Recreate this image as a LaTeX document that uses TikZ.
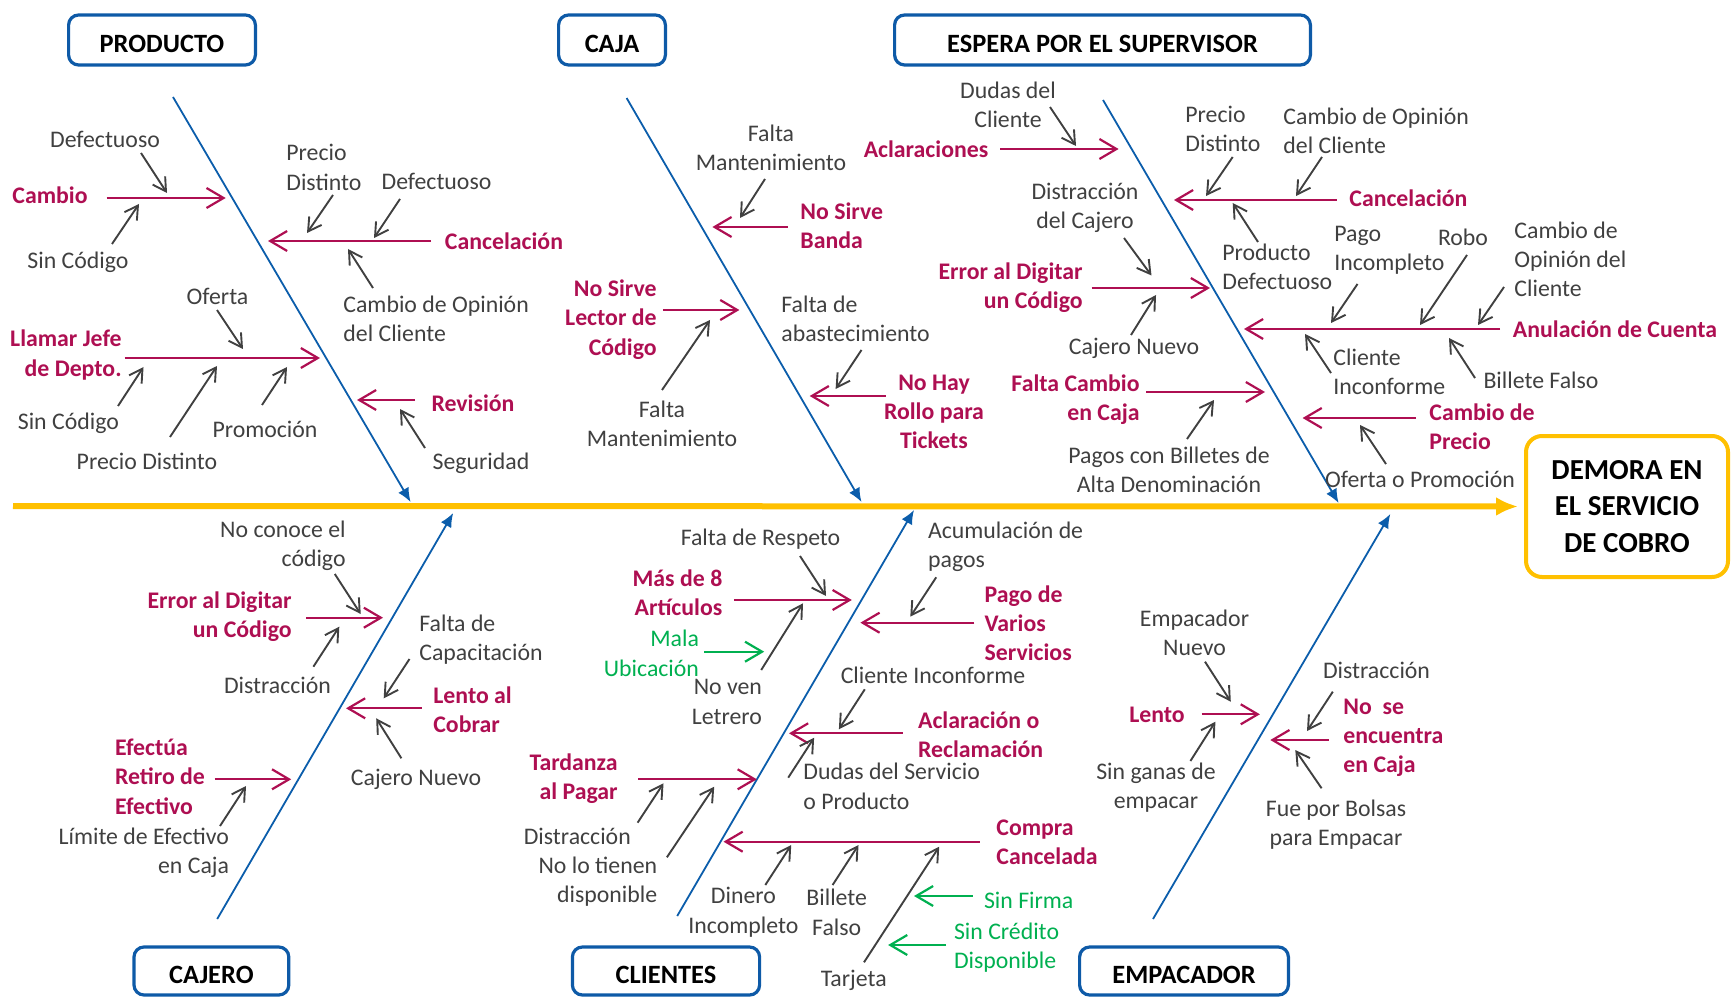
\documentclass[tikz,border=0pt]{standalone}
\usepackage{fontspec}
\setmainfont{Carlito}
\usetikzlibrary{arrows.meta}
\definecolor{boneblue}{HTML}{0B5DAB}
\definecolor{boxblue}{HTML}{0E5AA7}
\definecolor{causered}{HTML}{AE0F52}
\definecolor{subgray}{HTML}{404040}
\definecolor{notegreen}{HTML}{00B050}
\definecolor{spineyellow}{HTML}{FFC000}

\begin{document}
\begin{tikzpicture}[
  x=0.5pt, y=-0.5pt,
  catbox/.style={
    draw=boxblue,
    line width=1.6pt,
    rounded corners=5pt,
    font=\fontsize{13.2}{16}\selectfont\bfseries,
    text height=12.5pt,
    text depth=0pt,
    minimum height=25pt
  },
  effectbox/.style={
    draw=spineyellow,
    line width=2pt,
    rounded corners=8pt,
    align=center,
    font=\fontsize{14.5}{18.2}\selectfont\bfseries,
    minimum width=101pt,
    minimum height=70.5pt
  },
  sub/.style={text=subgray, inner sep=0pt, align=center, font=\fontsize{11.9}{14.6}\selectfont},
  cause/.style={text=causered, inner sep=0pt, align=center, font=\fontsize{11.9}{14.6}\selectfont\bfseries},
  note/.style={text=notegreen, inner sep=0pt, align=center, font=\fontsize{11.9}{14.6}\selectfont},
  subedge/.style={draw=subgray, line width=0.95pt, -{Straight Barb[length=6.5pt,width=7.5pt]}},
  causeedge/.style={draw=causered, line width=1.1pt, -{Straight Barb[length=8.5pt,width=10pt]}},
  noteedge/.style={draw=notegreen, line width=1.1pt, -{Straight Barb[length=8.5pt,width=10pt]}},
  bone/.style={draw=boneblue, line width=0.9pt, -{Latex[length=7pt,width=6pt]}},
  spine/.style={draw=spineyellow, line width=3pt, -{Latex[length=11pt,width=9.5pt]}}
]
\useasboundingbox (0,0) rectangle (1733,1005);

\node[catbox, minimum width=93.4pt] (producto) at (162,40) {PRODUCTO};
\node[catbox, minimum width=53.4pt] (caja) at (612,40) {CAJA};
\node[catbox, minimum width=207.9pt] (espera) at (1102.5,40) {ESPERA POR EL SUPERVISOR};
\node[catbox, minimum width=77.4pt, minimum height=24pt] (cajero) at (211.4,971) {CAJERO};
\node[catbox, minimum width=93.6pt, minimum height=24pt] (clientes) at (666,971) {CLIENTES};
\node[catbox, minimum width=104.4pt, minimum height=24pt] (empacador) at (1184,971) {EMPACADOR};
\node[effectbox] (demora) at (1627,506.5) {DEMORA EN\\EL SERVICIO\\DE COBRO};

\coordinate (spine-s) at (13,506);
\draw[spine, shorten >=3pt] (spine-s) -- (demora.west);

\coordinate (producto-s) at (173,97);    \coordinate (producto-e) at (410.6,502);
\coordinate (caja-s) at (626.6,98);      \coordinate (caja-e) at (861.5,502);
\coordinate (espera-s) at (1103,100);    \coordinate (espera-e) at (1338.6,503);
\coordinate (cajero-s) at (217.2,919);   \coordinate (cajero-e) at (453.2,513);
\coordinate (clientes-s) at (677.2,916); \coordinate (clientes-e) at (914,510);
\coordinate (empacador-s) at (1153,919); \coordinate (empacador-e) at (1390.3,514);
\draw[bone] (producto-s) -- (producto-e);
\draw[bone] (caja-s) -- (caja-e);
\draw[bone] (espera-s) -- (espera-e);
\draw[bone] (cajero-s) -- (cajero-e);
\draw[bone] (clientes-s) -- (clientes-e);
\draw[bone] (empacador-s) -- (empacador-e);

% PRODUCTO
\node[cause] (p-cambio) at (50,195) {Cambio};
\node[cause] (p-cancel) at (504,241) {Cancelación};
\node[cause, anchor=east, align=right] (p-llamar) at (122,355) {Llamar Jefe\\de Depto.};
\node[cause] (p-revision) at (473,403) {Revisión};
\node[sub] (p-defect1) at (105,139) {Defectuoso};
\node[sub] (p-sincod1) at (78,262) {Sin Código};
\node[sub, anchor=west, align=left] (p-precio1) at (286,167.5) {Precio\\Distinto};
\node[sub] (p-defect2) at (436.5,181) {Defectuoso};
\node[sub, anchor=west, align=left] (p-opinion) at (343,319) {Cambio de Opinión\\del Cliente};
\node[sub] (p-oferta) at (217.5,296) {Oferta};
\node[sub] (p-sincod2) at (68.4,423) {Sin Código};
\node[sub] (p-precio2) at (147,461) {Precio Distinto};
\node[sub] (p-promo) at (265,429) {Promoción};
\node[sub] (p-seguridad) at (481,463) {Seguridad};

\coordinate (p-cambio-s) at (106.5,198);   \coordinate (p-cambio-e) at (225.7,198);
\coordinate (p-cancel-s) at (431,241);     \coordinate (p-cancel-e) at (268,241);
\coordinate (p-llamar-s) at (124.7,358);   \coordinate (p-llamar-e) at (320,358);
\coordinate (p-revision-s) at (415,400);   \coordinate (p-revision-e) at (357,400);
\coordinate (p-defect1-s) at (141,153);    \coordinate (p-defect1-e) at (167,193);
\coordinate (p-sincod1-s) at (112,244);    \coordinate (p-sincod1-e) at (139,204);
\coordinate (p-precio1-s) at (333,195);    \coordinate (p-precio1-e) at (307,233);
\coordinate (p-defect2-s) at (400,199);    \coordinate (p-defect2-e) at (374,238);
\coordinate (p-opinion-s) at (373,288);    \coordinate (p-opinion-e) at (348,249);
\coordinate (p-oferta-s) at (217,310);     \coordinate (p-oferta-e) at (243,349);
\coordinate (p-sincod2-s) at (118,406);    \coordinate (p-sincod2-e) at (143.5,367);
\coordinate (p-precio2-s) at (170,437);    \coordinate (p-precio2-e) at (217,366);
\coordinate (p-promo-s) at (262,405);      \coordinate (p-promo-e) at (287,367);
\coordinate (p-seguridad-s) at (425,448);  \coordinate (p-seguridad-e) at (400,409);
\draw[causeedge] (p-cambio-s) -- (p-cambio-e);
\draw[causeedge] (p-cancel-s) -- (p-cancel-e);
\draw[causeedge] (p-llamar-s) -- (p-llamar-e);
\draw[causeedge] (p-revision-s) -- (p-revision-e);
\draw[subedge] (p-defect1-s) -- (p-defect1-e);
\draw[subedge] (p-sincod1-s) -- (p-sincod1-e);
\draw[subedge] (p-precio1-s) -- (p-precio1-e);
\draw[subedge] (p-defect2-s) -- (p-defect2-e);
\draw[subedge] (p-opinion-s) -- (p-opinion-e);
\draw[subedge] (p-oferta-s) -- (p-oferta-e);
\draw[subedge] (p-sincod2-s) -- (p-sincod2-e);
\draw[subedge] (p-precio2-s) -- (p-precio2-e);
\draw[subedge] (p-promo-s) -- (p-promo-e);
\draw[subedge] (p-seguridad-s) -- (p-seguridad-e);

% CAJA
\node[cause, anchor=west, align=left] (c-banda) at (800,226) {No Sirve\\Banda};
\node[cause, anchor=east, align=right] (c-lector) at (657,319.5) {No Sirve\\Lector de\\Código};
\node[cause] (c-rollo) at (934,412) {No Hay\\Rollo para\\Tickets};
\node[sub] (c-mant1) at (771,148) {Falta\\Mantenimiento};
\node[sub] (c-mant2) at (662,423.5) {Falta\\Mantenimiento};
\node[sub, anchor=west, align=left] (c-abast) at (781,318.5) {Falta de\\abastecimiento};

\coordinate (c-banda-s) at (787.5,227);   \coordinate (c-banda-e) at (712.4,227);
\coordinate (c-lector-s) at (662.8,310);  \coordinate (c-lector-e) at (739.4,310);
\coordinate (c-rollo-s) at (885.6,396);   \coordinate (c-rollo-e) at (809.7,396);
\coordinate (c-mant1-s) at (765,179);     \coordinate (c-mant1-e) at (740,218);
\coordinate (c-mant2-s) at (662,390);     \coordinate (c-mant2-e) at (710,320);
\coordinate (c-abast-s) at (861.5,350);   \coordinate (c-abast-e) at (835.6,389);
\draw[causeedge] (c-banda-s) -- (c-banda-e);
\draw[causeedge] (c-lector-s) -- (c-lector-e);
\draw[causeedge] (c-rollo-s) -- (c-rollo-e);
\draw[subedge] (c-mant1-s) -- (c-mant1-e);
\draw[subedge] (c-mant2-s) -- (c-mant2-e);
\draw[subedge] (c-abast-s) -- (c-abast-e);

% ESPERA POR EL SUPERVISOR
\node[cause] (e-aclar) at (926,149) {Aclaraciones};
\node[cause, anchor=east, align=right] (e-error) at (1083,287.5) {Error al Digitar\\un Código};
\node[cause, anchor=east, align=right] (e-cambio) at (1140,400) {Falta Cambio\\en Caja};
\node[cause, anchor=west] (e-cancel) at (1349,198) {Cancelación};
\node[cause, anchor=west] (e-anul) at (1512.5,329) {Anulación de Cuenta};
\node[cause, anchor=west, align=left] (e-precio) at (1429,427) {Cambio de\\Precio};
\node[sub] (e-dudas) at (1008,105) {Dudas del\\Cliente};
\node[sub] (e-distr) at (1085,208) {Distracción\\del Cajero};
\node[sub] (e-nuevo) at (1134,348) {Cajero Nuevo};
\node[sub] (e-billetes) at (1169,470) {Pagos con Billetes de\\Alta Denominación};
\node[sub, anchor=west, align=left] (e-distinto) at (1185,129) {Precio\\Distinto};
\node[sub, anchor=west, align=left] (e-opinion1) at (1283,130.5) {Cambio de Opinión\\del Cliente};
\node[sub, anchor=west, align=left] (e-defect) at (1222,266.7) {Producto\\Defectuoso};
\node[sub, anchor=west, align=left] (e-pago) at (1334,250) {Pago\\Incompleto};
\node[sub] (e-robo) at (1463,237) {Robo};
\node[sub, anchor=west, align=left] (e-opinion2) at (1514,259.3) {Cambio de\\Opinión del\\Cliente};
\node[sub, anchor=west, align=left] (e-inconf) at (1333,371.7) {Cliente\\Inconforme};
\node[sub] (e-falso) at (1541,380) {Billete Falso};
\node[sub] (e-oferta) at (1420,479) {Oferta o Promoción};

\coordinate (e-aclar-s) at (1000,149);     \coordinate (e-aclar-e) at (1118.6,149);
\coordinate (e-error-s) at (1091.6,288);   \coordinate (e-error-e) at (1210,288);
\coordinate (e-cambio-s) at (1146,392);    \coordinate (e-cambio-e) at (1265,392);
\coordinate (e-cancel-s) at (1336.7,200);  \coordinate (e-cancel-e) at (1174,200);
\coordinate (e-anul-s) at (1500,329);      \coordinate (e-anul-e) at (1244,329);
\coordinate (e-precio-s) at (1416,418);    \coordinate (e-precio-e) at (1302.6,418);
\coordinate (e-dudas-s) at (1050,107);     \coordinate (e-dudas-e) at (1076,146);
\coordinate (e-distr-s) at (1124,238);     \coordinate (e-distr-e) at (1151.5,275.5);
\coordinate (e-nuevo-s) at (1131,335);     \coordinate (e-nuevo-e) at (1156,295);
\coordinate (e-billetes-s) at (1187,439);  \coordinate (e-billetes-e) at (1214,400);
\coordinate (e-distinto-s) at (1232.7,157);\coordinate (e-distinto-e) at (1206,196);
\coordinate (e-opinion1-s) at (1322,157);  \coordinate (e-opinion1-e) at (1296,196);
\coordinate (e-defect-s) at (1258,242);    \coordinate (e-defect-e) at (1232.7,203);
\coordinate (e-pago-s) at (1357.5,284);    \coordinate (e-pago-e) at (1331,323);
\coordinate (e-robo-s) at (1467,255);      \coordinate (e-robo-e) at (1420,325);
\coordinate (e-opinion2-s) at (1504,287);  \coordinate (e-opinion2-e) at (1478,325);
\coordinate (e-inconf-s) at (1331,373);    \coordinate (e-inconf-e) at (1305,334);
\coordinate (e-falso-s) at (1475,378);     \coordinate (e-falso-e) at (1449,338);
\coordinate (e-oferta-s) at (1386,464);    \coordinate (e-oferta-e) at (1360,425);
\draw[causeedge] (e-aclar-s) -- (e-aclar-e);
\draw[causeedge] (e-error-s) -- (e-error-e);
\draw[causeedge] (e-cambio-s) -- (e-cambio-e);
\draw[causeedge] (e-cancel-s) -- (e-cancel-e);
\draw[causeedge] (e-anul-s) -- (e-anul-e);
\draw[causeedge] (e-precio-s) -- (e-precio-e);
\draw[subedge] (e-dudas-s) -- (e-dudas-e);
\draw[subedge] (e-distr-s) -- (e-distr-e);
\draw[subedge] (e-nuevo-s) -- (e-nuevo-e);
\draw[subedge] (e-billetes-s) -- (e-billetes-e);
\draw[subedge] (e-distinto-s) -- (e-distinto-e);
\draw[subedge] (e-opinion1-s) -- (e-opinion1-e);
\draw[subedge] (e-defect-s) -- (e-defect-e);
\draw[subedge] (e-pago-s) -- (e-pago-e);
\draw[subedge] (e-robo-s) -- (e-robo-e);
\draw[subedge] (e-opinion2-s) -- (e-opinion2-e);
\draw[subedge] (e-inconf-s) -- (e-inconf-e);
\draw[subedge] (e-falso-s) -- (e-falso-e);
\draw[subedge] (e-oferta-s) -- (e-oferta-e);

% CAJERO
\node[cause, anchor=east, align=right] (j-error) at (292,616.7) {Error al Digitar\\un Código};
\node[cause, anchor=west, align=left] (j-lento) at (433,709.7) {Lento al\\Cobrar};
\node[cause, anchor=west, align=left] (j-retiro) at (114.7,776.7) {Efectúa\\Retiro de\\Efectivo};
\node[sub, anchor=east, align=right] (j-conoce) at (346,546) {No conoce el\\código};
\node[sub] (j-distr) at (277.5,685) {Distracción};
\node[sub, anchor=west, align=left] (j-capac) at (419,640) {Falta de\\Capacitación};
\node[sub] (j-nuevo) at (416,779) {Cajero Nuevo};
\node[sub, anchor=east, align=right] (j-limite) at (229.4,853) {Límite de Efectivo\\en Caja};

\coordinate (j-error-s) at (306,617.7);    \coordinate (j-error-e) at (383,617.7);
\coordinate (j-lento-s) at (421.8,708.3);  \coordinate (j-lento-e) at (346,708.3);
\coordinate (j-retiro-s) at (214.6,779.3); \coordinate (j-retiro-e) at (291.2,779.3);
\coordinate (j-conoce-s) at (334.8,574);   \coordinate (j-conoce-e) at (360.7,614);
\coordinate (j-distr-s) at (313.4,666.7);  \coordinate (j-distr-e) at (339.3,626.7);
\coordinate (j-capac-s) at (409.5,659);    \coordinate (j-capac-e) at (383.7,698.3);
\coordinate (j-nuevo-s) at (401.4,758.3);  \coordinate (j-nuevo-e) at (376.2,718.3);
\coordinate (j-limite-s) at (220,826);     \coordinate (j-limite-e) at (246,786);
\draw[causeedge] (j-error-s) -- (j-error-e);
\draw[causeedge] (j-lento-s) -- (j-lento-e);
\draw[causeedge] (j-retiro-s) -- (j-retiro-e);
\draw[subedge] (j-conoce-s) -- (j-conoce-e);
\draw[subedge] (j-distr-s) -- (j-distr-e);
\draw[subedge] (j-capac-s) -- (j-capac-e);
\draw[subedge] (j-nuevo-s) -- (j-nuevo-e);
\draw[subedge] (j-limite-s) -- (j-limite-e);

% CLIENTES
\node[cause, anchor=east, align=right] (k-mas) at (722.7,592.5) {Más de 8\\Artículos};
\node[cause, anchor=west, align=left] (k-varios) at (984.3,623) {Pago de\\Varios\\Servicios};
\node[cause, anchor=west, align=left] (k-aclar) at (917.7,735) {Aclaración o\\Reclamación};
\node[cause, anchor=east, align=right] (k-tardanza) at (618,778.5) {Tardanza\\al Pagar};
\node[cause, anchor=west, align=left] (k-compra) at (996,842.5) {Compra\\Cancelada};
\node[note, anchor=east, align=right] (k-mala) at (699.4,653.3) {Mala\\Ubicación};
\node[note, anchor=west] (k-firma) at (983.6,900) {Sin Firma};
\node[note, anchor=west, align=left] (k-credito) at (953.6,947.8) {Sin Crédito\\Disponible};
\node[sub] (k-respeto) at (760.5,539.3) {Falta de Respeto};
\node[sub, anchor=east, align=right] (k-letrero) at (762.3,702) {No ven\\Letrero};
\node[sub, anchor=west, align=left] (k-acum) at (927.7,546.7) {Acumulación de\\pagos};
\node[sub] (k-inconf) at (933,675) {Cliente Inconforme};
\node[sub, anchor=west, align=left] (k-dudas) at (803,786.3) {Dudas del Servicio\\o Producto};
\node[sub] (k-distr) at (577.3,836.7) {Distracción};
\node[sub, anchor=east, align=right] (k-tienen) at (657.6,882) {No lo tienen\\disponible};
\node[sub] (k-dinero) at (743.4,912.3) {Dinero\\Incompleto};
\node[sub] (k-billete) at (836.7,912.3) {Billete\\Falso};
\node[sub] (k-tarjeta) at (853.7,980) {Tarjeta};

\coordinate (k-mas-s) at (733.8,600);       \coordinate (k-mas-e) at (851.8,600);
\coordinate (k-varios-s) at (974.3,622.7);  \coordinate (k-varios-e) at (860.4,622.7);
\coordinate (k-aclar-s) at (902.9,733.3);   \coordinate (k-aclar-e) at (789,733.3);
\coordinate (k-tardanza-s) at (638.4,779.3);\coordinate (k-tardanza-e) at (756.8,779.3);
\coordinate (k-compra-s) at (979.9,841.7);  \coordinate (k-compra-e) at (723.5,841.7);
\coordinate (k-mala-s) at (704.2,651.7);    \coordinate (k-mala-e) at (764.2,651.7);
\coordinate (k-firma-s) at (972.5,896);     \coordinate (k-firma-e) at (914,896);
\coordinate (k-credito-s) at (946.2,945);   \coordinate (k-credito-e) at (888.1,945);
\coordinate (k-respeto-s) at (800,556);     \coordinate (k-respeto-e) at (826,596);
\coordinate (k-letrero-s) at (761.2,670);   \coordinate (k-letrero-e) at (803,603.3);
\coordinate (k-acum-s) at (936.2,577.3);    \coordinate (k-acum-e) at (910.3,616.7);
\coordinate (k-inconf-s) at (864.8,689.3);  \coordinate (k-inconf-e) at (838.9,729.3);
\coordinate (k-dudas-s) at (788.2,777.7);   \coordinate (k-dudas-e) at (814.1,737.7);
\coordinate (k-distr-s) at (637.6,822.7);   \coordinate (k-distr-e) at (663.5,783.3);
\coordinate (k-tienen-s) at (666.9,857.3);  \coordinate (k-tienen-e) at (714.2,786.7);
\coordinate (k-dinero-s) at (765.3,885);    \coordinate (k-dinero-e) at (791.2,845);
\coordinate (k-billete-s) at (832.6,885);   \coordinate (k-billete-e) at (858.5,845);
\coordinate (k-tarjeta-s) at (864,962.3);   \coordinate (k-tarjeta-e) at (939.2,846.7);
\draw[causeedge] (k-mas-s) -- (k-mas-e);
\draw[causeedge] (k-varios-s) -- (k-varios-e);
\draw[causeedge] (k-aclar-s) -- (k-aclar-e);
\draw[causeedge] (k-tardanza-s) -- (k-tardanza-e);
\draw[causeedge] (k-compra-s) -- (k-compra-e);
\draw[noteedge] (k-mala-s) -- (k-mala-e);
\draw[noteedge] (k-firma-s) -- (k-firma-e);
\draw[noteedge] (k-credito-s) -- (k-credito-e);
\draw[subedge] (k-respeto-s) -- (k-respeto-e);
\draw[subedge] (k-letrero-s) -- (k-letrero-e);
\draw[subedge] (k-acum-s) -- (k-acum-e);
\draw[subedge] (k-inconf-s) -- (k-inconf-e);
\draw[subedge] (k-dudas-s) -- (k-dudas-e);
\draw[subedge] (k-distr-s) -- (k-distr-e);
\draw[subedge] (k-tienen-s) -- (k-tienen-e);
\draw[subedge] (k-dinero-s) -- (k-dinero-e);
\draw[subedge] (k-billete-s) -- (k-billete-e);
\draw[subedge] (k-tarjeta-s) -- (k-tarjeta-e);

% EMPACADOR
\node[cause] (m-lento) at (1157,715) {Lento};
\node[cause, anchor=west, align=left] (m-caja) at (1343,737.5) {No\ \ se\\encuentra\\en Caja};
\node[sub] (m-nuevo) at (1194.5,632.7) {Empacador\\Nuevo};
\node[sub] (m-ganas) at (1156,787.8) {Sin ganas de\\empacar};
\node[sub] (m-distr) at (1376.5,670) {Distracción};
\node[sub] (m-bolsas) at (1336,824.5) {Fue por Bolsas\\para Empacar};

\coordinate (m-lento-s) at (1201.6,714.3);  \coordinate (m-lento-e) at (1259.9,714.3);
\coordinate (m-caja-s) at (1328.6,740);     \coordinate (m-caja-e) at (1270.3,740);
\coordinate (m-nuevo-s) at (1205,661.7);    \coordinate (m-nuevo-e) at (1230.8,701.7);
\coordinate (m-ganas-s) at (1190.4,761);    \coordinate (m-ganas-e) at (1215.4,721.7);
\coordinate (m-distr-s) at (1332.8,691.7);  \coordinate (m-distr-e) at (1307,731);
\coordinate (m-bolsas-s) at (1321.6,788.3); \coordinate (m-bolsas-e) at (1295.3,750);
\draw[causeedge] (m-lento-s) -- (m-lento-e);
\draw[causeedge] (m-caja-s) -- (m-caja-e);
\draw[subedge] (m-nuevo-s) -- (m-nuevo-e);
\draw[subedge] (m-ganas-s) -- (m-ganas-e);
\draw[subedge] (m-distr-s) -- (m-distr-e);
\draw[subedge] (m-bolsas-s) -- (m-bolsas-e);
\end{tikzpicture}
\end{document}
